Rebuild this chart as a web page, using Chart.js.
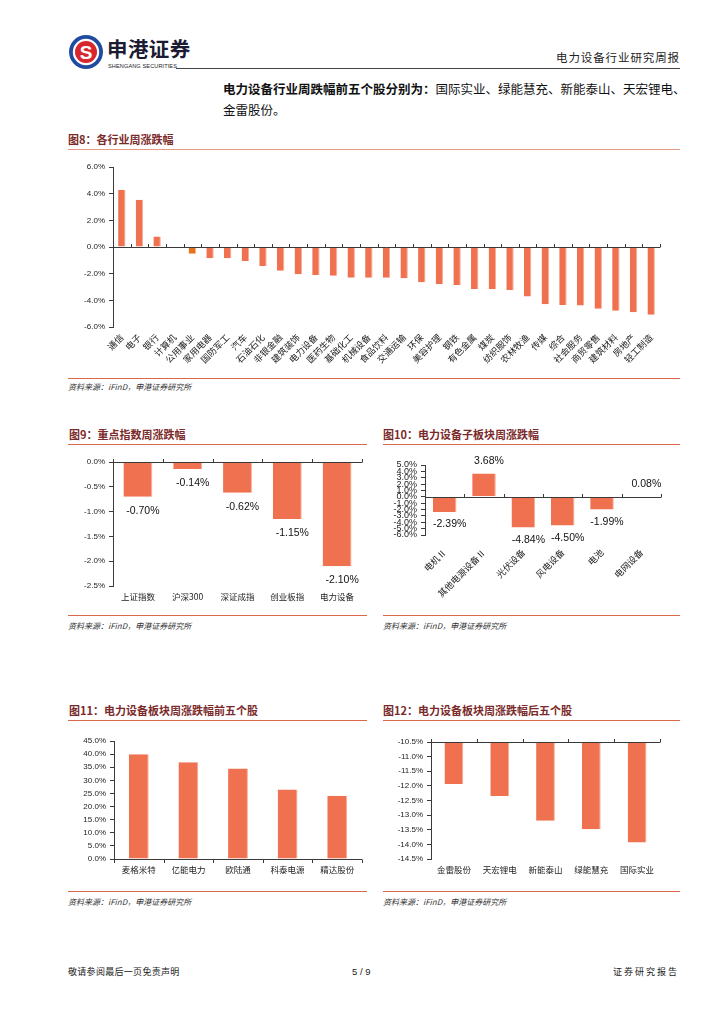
<!DOCTYPE html>
<html><head><meta charset="utf-8">
<script src="https://cdn.jsdelivr.net/npm/chart.js@4.4.1/dist/chart.umd.min.js"></script>
<style>
body{margin:0;background:#fff;}
#page{position:relative;width:724px;height:1024px;overflow:hidden;font-family:"Noto Sans CJK SC","Liberation Sans",sans-serif;color:#111;background:#fff;}
.abs{position:absolute;white-space:nowrap;}
.title{position:absolute;font-size:11px;font-weight:bold;color:#7A2A2A;white-space:nowrap;line-height:11px;}
.rule{position:absolute;height:1px;background:#D9694A;}
.src{position:absolute;font-size:8px;font-style:italic;color:#333;white-space:nowrap;line-height:8px;}
.box{position:absolute;}
canvas{display:block;}
</style></head>
<body>
<div id="page">
  <!-- header -->
  <svg class="abs" style="left:68px;top:34px" width="36" height="36" viewBox="0 0 36 36">
    <circle cx="18" cy="18" r="17" fill="#1F4C9E"/>
    <circle cx="18" cy="18" r="13.2" fill="#fff"/>
    <circle cx="18" cy="18" r="11" fill="#D8262E"/>
    <text x="18" y="25" text-anchor="middle" font-family="Liberation Sans" font-weight="bold" font-size="19" fill="#fff">S</text>
  </svg>
  <div class="abs" style="left:107px;top:36px;font-size:20.5px;font-weight:bold;color:#1b1b33;line-height:24px;letter-spacing:0.4px;">申港证券</div>
  <div class="abs" style="left:108px;top:63px;font-size:5.6px;color:#222;font-family:'Liberation Sans';line-height:6px;letter-spacing:0.1px;">SHENGANG SECURITIES</div>
  <div class="abs" style="left:556px;top:51px;font-size:11.5px;color:#222;line-height:13px;letter-spacing:0.9px;">电力设备行业研究周报</div>
  <div class="abs" style="left:176px;top:68px;width:504px;height:1px;background:#444;"></div>
  <div class="abs" style="left:223px;top:78px;font-size:12.5px;line-height:21px;color:#111;">
    <b>电力设备行业周跌幅前五个股分别为：</b>国际实业、绿能慧充、新能泰山、天宏锂电、<br>金雷股份。
  </div>

  <!-- fig 8 -->
  <div class="title" style="left:68px;top:134px;">图8：各行业周涨跌幅</div>
  <div class="rule" style="left:68px;top:149px;width:612px;background:#E49A84;"></div>
  <div class="box" style="left:60px;top:155px;width:620px;height:218px;"><canvas id="c8" width="620" height="218"></canvas></div>
  <div class="rule" style="left:68px;top:378px;width:612px;"></div>
  <div class="src" style="left:68px;top:383px;">资料来源：iFinD，申港证券研究所</div>

  <!-- fig 9 -->
  <div class="title" style="left:69px;top:429px;">图9：重点指数周涨跌幅</div>
  <div class="rule" style="left:68px;top:444px;width:299px;"></div>
  <div class="box" style="left:60px;top:452px;width:310px;height:155px;"><canvas id="c9" width="310" height="155"></canvas></div>
  <div class="rule" style="left:68px;top:615px;width:299px;"></div>
  <div class="src" style="left:68px;top:622px;">资料来源：iFinD，申港证券研究所</div>

  <!-- fig 10 -->
  <div class="title" style="left:383px;top:429px;">图10：电力设备子板块周涨跌幅</div>
  <div class="rule" style="left:383px;top:444px;width:297px;"></div>
  <div class="box" style="left:380px;top:452px;width:300px;height:156px;"><canvas id="c10" width="300" height="156"></canvas></div>
  <div class="rule" style="left:383px;top:615px;width:297px;"></div>
  <div class="src" style="left:383px;top:622px;">资料来源：iFinD，申港证券研究所</div>

  <!-- fig 11 -->
  <div class="title" style="left:69px;top:705px;">图11：电力设备板块周涨跌幅前五个股</div>
  <div class="rule" style="left:68px;top:720px;width:299px;"></div>
  <div class="box" style="left:60px;top:730px;width:310px;height:150px;"><canvas id="c11" width="310" height="150"></canvas></div>
  <div class="rule" style="left:68px;top:891px;width:299px;"></div>
  <div class="src" style="left:68px;top:898px;">资料来源：iFinD，申港证券研究所</div>

  <!-- fig 12 -->
  <div class="title" style="left:383px;top:705px;">图12：电力设备板块周涨跌幅后五个股</div>
  <div class="rule" style="left:383px;top:720px;width:297px;"></div>
  <div class="box" style="left:380px;top:730px;width:300px;height:150px;"><canvas id="c12" width="300" height="150"></canvas></div>
  <div class="rule" style="left:383px;top:891px;width:297px;"></div>
  <div class="src" style="left:383px;top:898px;">资料来源：iFinD，申港证券研究所</div>

  <!-- footer -->
  <div class="abs" style="left:68px;top:966px;font-size:9px;line-height:11px;color:#222;letter-spacing:0.3px;">敬请参阅最后一页免责声明</div>
  <div class="abs" style="left:352px;top:966px;font-size:9.5px;line-height:11px;color:#222;font-family:'Liberation Sans';">5 / 9</div>
  <div class="abs" style="left:613px;top:966px;font-size:9px;line-height:11px;color:#222;letter-spacing:2px;">证券研究报告</div>
</div>

<script>
// ---------------- data ----------------
const fig8Categories = ['通信','电子','银行','计算机','公用事业','家用电器','国防军工','汽车','石油石化','非银金融','建筑装饰','电力设备','医药生物','基础化工','机械设备','食品饮料','交通运输','环保','美容护理','钢铁','有色金属','煤炭','纺织服饰','农林牧渔','传媒','综合','社会服务','商贸零售','建筑材料','房地产','轻工制造'];
const fig8Values = [4.27,3.55,0.78,-0.03,-0.50,-0.85,-0.85,-1.05,-1.43,-1.78,-2.05,-2.10,-2.15,-2.30,-2.30,-2.30,-2.35,-2.65,-2.80,-2.85,-3.15,-3.17,-3.22,-3.72,-4.30,-4.35,-4.38,-4.63,-4.78,-4.90,-5.08];
const fig8Highlight = '公用事业';
const fig8Range = {min:-6, max:6, step:2};

const fig9Categories = ['上证指数','沪深300','深证成指','创业板指','电力设备'];
const fig9Values = [-0.70,-0.14,-0.62,-1.15,-2.10];
const fig9Range = {min:-2.5, max:0, step:0.5};

const fig10Categories = ['电机Ⅱ','其他电源设备Ⅱ','光伏设备','风电设备','电池','电网设备'];
const fig10Values = [-2.39,3.68,-4.84,-4.50,-1.99,0.08];
const fig10Range = {min:-6, max:5, step:1};

const fig11Categories = ['麦格米特','亿能电力','欧陆通','科泰电源','精达股份'];
const fig11Values = [39.9,36.9,34.5,26.5,24.1];
const fig11Range = {min:0, max:45, step:5};

const fig12Categories = ['金雷股份','天宏锂电','新能泰山','绿能慧充','国际实业'];
const fig12Values = [-11.94,-12.35,-13.19,-13.48,-13.94];
const fig12Range = {min:-14.5, max:-10.5, step:0.5};

// ---------------- style ----------------
const BAR = '#EF7150';
const BAR_EDGE = '#F7AD92';
const BAR_DARK = '#E5731E';
const AXIS = '#3a3a3a';
const NUM_FONT = 'Liberation Sans';
const CJK_FONT = 'Noto Sans CJK SC';

// category axis line drawn at a value, with tick marks at category boundaries
const axisLinePlugin = {
  id: 'axisLine',
  afterDatasetsDraw(chart, args, opts) {
    if (!opts || opts.value === undefined) return;
    const {ctx, chartArea, scales: {x, y}} = chart;
    const yp = Math.round(y.getPixelForValue(opts.value)) + 0.5;
    const dir = opts.dir || -1;
    ctx.save();
    ctx.strokeStyle = AXIS;
    ctx.lineWidth = 1;
    ctx.beginPath();
    ctx.moveTo(chartArea.left, yp);
    ctx.lineTo(chartArea.right, yp);
    const n = x.getLabels().length;
    for (let i = 0; i <= n; i++) {
      const xp = Math.round(x.getPixelForValue(i - 0.5)) + 0.5;
      ctx.moveTo(xp, yp);
      ctx.lineTo(xp, yp + dir * 3.5);
    }
    ctx.stroke();
    ctx.restore();
  }
};

const valueLabelPlugin = {
  id: 'valueLabels',
  afterDatasetsDraw(chart, args, opts) {
    if (!opts || !opts.show) return;
    const {ctx} = chart;
    const meta = chart.getDatasetMeta(0);
    const data = chart.data.datasets[0].data;
    ctx.save();
    ctx.font = opts.size + 'px "' + NUM_FONT + '"';
    ctx.fillStyle = '#111';
    ctx.textAlign = 'center';
    ctx.textBaseline = 'middle';
    meta.data.forEach((bar, i) => {
      const v = data[i];
      const ty = v < 0 ? bar.y + opts.offset : bar.y - opts.offset;
      ctx.fillText(v.toFixed(2) + '%', bar.x + 5, ty);
    });
    ctx.restore();
  }
};
Chart.register(axisLinePlugin, valueLabelPlugin);

function makeChart(id, p) {
  const colors = p.colors || p.values.map(() => BAR);
  return new Chart(document.getElementById(id), {
    type: 'bar',
    data: {
      labels: p.categories,
      datasets: [{
        data: p.values,
        backgroundColor: colors,
        borderColor: BAR_EDGE,
        borderWidth: {top: 0, left: 0, bottom: 0, right: 1},
        borderSkipped: false,
        barPercentage: p.barPct,
        categoryPercentage: 1
      }]
    },
    options: {
      responsive: false,
      animation: false,
      events: [],
      layout: {padding: p.padding},
      plugins: {
        legend: {display: false},
        tooltip: {enabled: false},
        axisLine: {value: p.axisValue, dir: p.axisDir},
        valueLabels: {show: !!p.labels, size: 10.5, offset: p.labelOffset || 13}
      },
      scales: {
        x: {
          grid: {display: false, drawTicks: false},
          border: {display: false},
          ticks: {
            autoSkip: false,
            maxRotation: p.rot || 0,
            minRotation: p.rot || 0,
            padding: p.xPad,
            color: '#222',
            font: {family: CJK_FONT, size: p.xFont}
          },
          afterFit(s) { s.height = p.xHeight; }
        },
        y: {
          min: p.range.min,
          max: p.range.max,
          grid: {drawOnChartArea: false, drawTicks: true, tickLength: 4, color: AXIS},
          border: {display: true, color: AXIS},
          ticks: {
            stepSize: p.range.step,
            autoSkip: false,
            padding: 4,
            color: '#222',
            font: {family: NUM_FONT, size: p.yFont},
            callback: v => Number(v).toFixed(1) + '%'
          },
          afterFit(s) { s.width = p.yWidth; }
        }
      }
    }
  });
}

makeChart('c8', {
  categories: fig8Categories, values: fig8Values, range: fig8Range,
  colors: fig8Categories.map(c => c === fig8Highlight ? BAR_DARK : BAR),
  barPct: 0.42, padding: {left: 0, right: 20, top: 12, bottom: 0},
  yWidth: 53, xHeight: 46, rot: 45, xPad: 5, xFont: 9, yFont: 8,
  axisValue: 0, axisDir: -1
});
makeChart('c9', {
  categories: fig9Categories, values: fig9Values, range: fig9Range,
  barPct: 0.58, padding: {left: 0, right: 8, top: 10, bottom: 0},
  yWidth: 53, xHeight: 21, xPad: 6, xFont: 8.5, yFont: 8,
  axisValue: 0, axisDir: -1, labels: true, labelOffset: 14
});
makeChart('c10', {
  categories: fig10Categories, values: fig10Values, range: fig10Range,
  barPct: 0.6, padding: {left: 0, right: 19, top: 13, bottom: 0},
  yWidth: 45, xHeight: 73, rot: 45, xPad: 12, xFont: 9, yFont: 9,
  axisValue: 0, axisDir: -1, labels: true, labelOffset: 12.5
});
makeChart('c11', {
  categories: fig11Categories, values: fig11Values, range: fig11Range,
  barPct: 0.4, padding: {left: 0, right: 8, top: 11, bottom: 0},
  yWidth: 54, xHeight: 21, xPad: 6, xFont: 8.5, yFont: 8,
  axisValue: 0, axisDir: 1
});
makeChart('c12', {
  categories: fig12Categories, values: fig12Values, range: fig12Range,
  barPct: 0.41, padding: {left: 0, right: 20, top: 12, bottom: 0},
  yWidth: 51, xHeight: 21, xPad: 6, xFont: 8.5, yFont: 8,
  axisValue: -10.5, axisDir: -1
});
</script>
</body></html>
